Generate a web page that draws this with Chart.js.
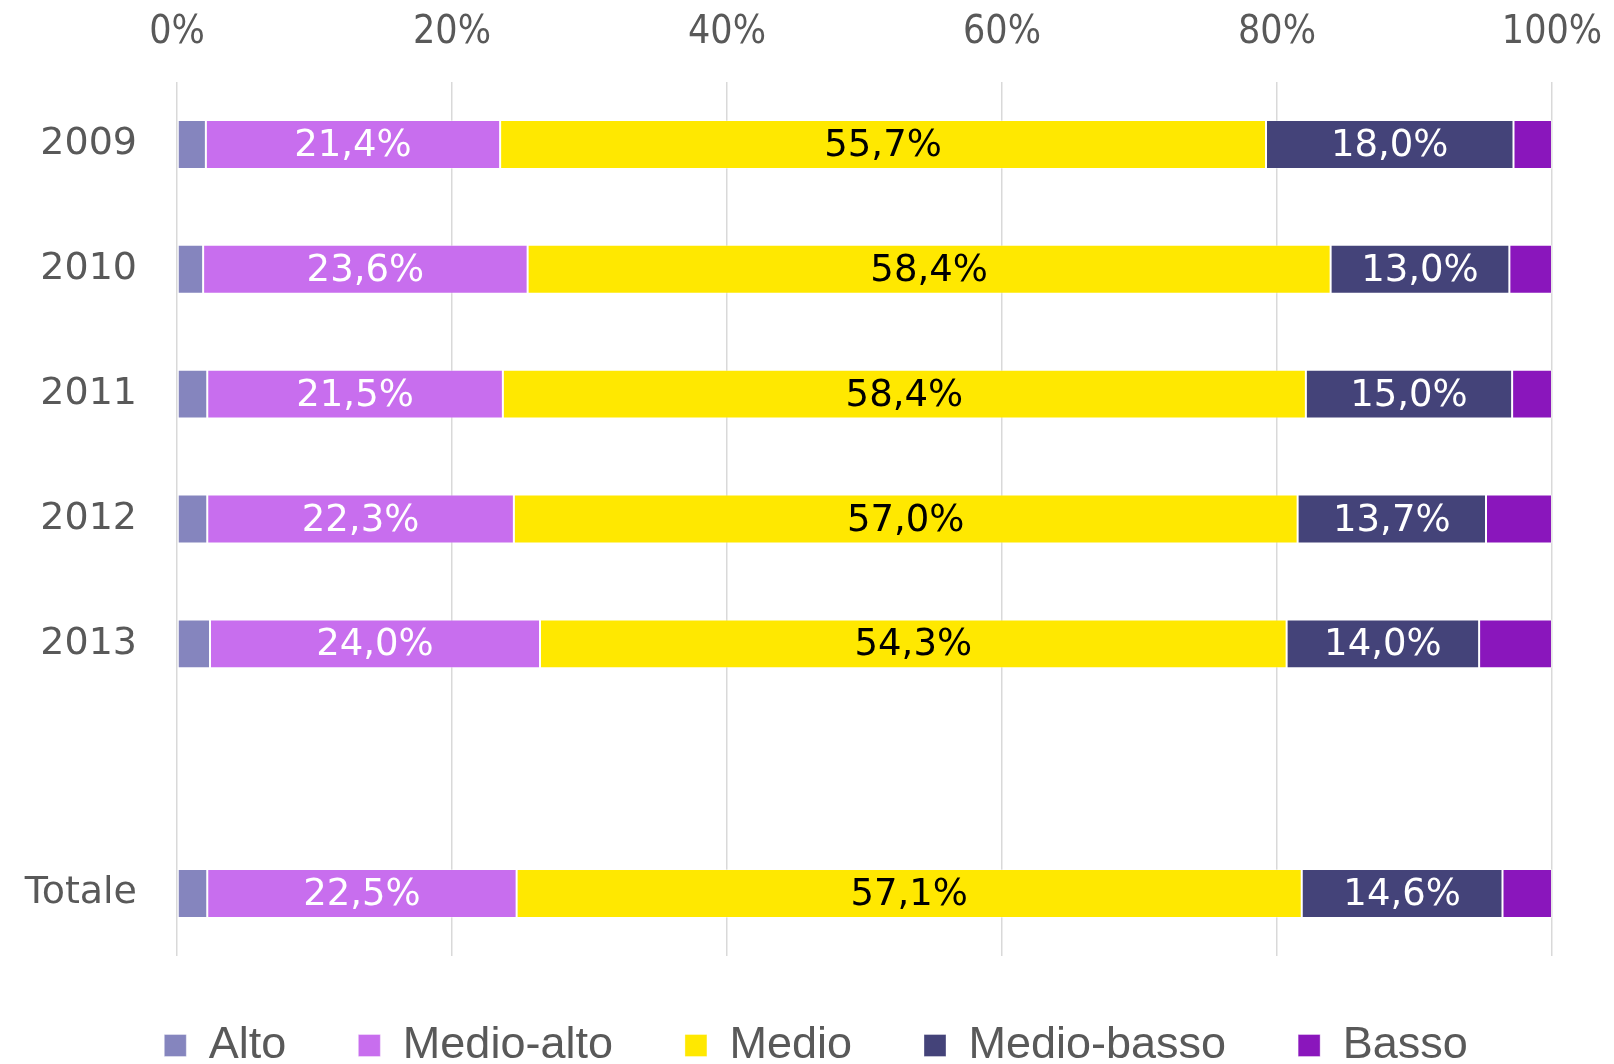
<!DOCTYPE html>
<html>
<head>
<meta charset="utf-8">
<script src="https://cdn.jsdelivr.net/npm/chart.js@4.4.1/dist/chart.umd.min.js"></script>
<style>
  html, body { margin: 0; padding: 0; background: #ffffff; overflow: hidden; }
  #wrap { width: 1614px; height: 1064px; position: relative; }
</style>
</head>
<body>
<div id="wrap"><canvas id="c"></canvas></div>
<script>
// ---- data ----
const categories = ['2009', '2010', '2011', '2012', '2013', '', 'Totale'];
const seriesNames = ['Alto', 'Medio-alto', 'Medio', 'Medio-basso', 'Basso'];
const alto       = [2.1, 1.9, 2.2, 2.2, 2.4, null, 2.2];
const medioAlto  = [21.4, 23.6, 21.5, 22.3, 24.0, null, 22.5];
const medio      = [55.7, 58.4, 58.4, 57.0, 54.3, null, 57.1];
const medioBasso = [18.0, 13.0, 15.0, 13.7, 14.0, null, 14.6];
const basso      = [2.8, 3.1, 2.9, 4.8, 5.3, null, 3.6];
const tickValues = [0, 20, 40, 60, 80, 100];

// ---- styles ----
const colors = ['#8585BE', '#C86EEE', '#FFE800', '#444379', '#8A16BC'];
const labelColors = [null, '#FFFFFF', '#000000', '#FFFFFF', null];
const textGray = '#595959';

const seriesData = [alto, medioAlto, medio, medioBasso, basso];

const datasets = seriesData.map((d, i) => ({
  label: seriesNames[i],
  data: d,
  backgroundColor: colors[i],
  borderColor: 'rgba(255,255,255,0.35)',
  borderWidth: 1,
  borderSkipped: false,
  categoryPercentage: 0.8,
  barPercentage: 0.49
}));

const barLabels = {
  id: 'barLabels',
  afterDatasetsDraw(chart) {
    const ctx = chart.ctx;
    ctx.save();
    ctx.font = '37px "DejaVu Sans", sans-serif';
    ctx.textAlign = 'center';
    ctx.textBaseline = 'middle';
    chart.data.datasets.forEach((ds, i) => {
      if (!labelColors[i]) return;
      const meta = chart.getDatasetMeta(i);
      meta.data.forEach((el, j) => {
        const v = ds.data[j];
        if (v === null || v === undefined) return;
        const p = el.getCenterPoint();
        ctx.fillStyle = labelColors[i];
        ctx.fillText(v.toFixed(1).replace('.', ',') + '%', p.x, p.y + 2);
      });
    });
    ctx.restore();
  }
};

new Chart(document.getElementById('c'), {
  type: 'bar',
  data: { labels: categories, datasets },
  options: {
    indexAxis: 'y',
    responsive: true,
    maintainAspectRatio: false,
    animation: false,
    devicePixelRatio: 1,
    layout: { padding: { left: 18, right: 0, top: 0, bottom: 0 } },
    scales: {
      x: {
        position: 'top',
        stacked: true,
        min: 0,
        max: 100,
        afterBuildTicks(scale) { scale.ticks = tickValues.map(v => ({ value: v })); },
        afterFit(scale) { scale.height = 82; scale.paddingLeft = 0; scale.paddingRight = 0; },
        grid: { color: '#D9D9D9', lineWidth: 1.5, drawTicks: false },
        border: { display: false },
        ticks: {
          padding: 26,
          color: textGray,
          font: { family: '"Liberation Sans Narrow", "DejaVu Sans Condensed", "Liberation Sans", sans-serif', size: 39 },
          callback: v => v + '%'
        }
      },
      y: {
        stacked: true,
        afterFit(scale) { scale.width = 159; },
        grid: { display: false, drawTicks: false },
        border: { display: false },
        ticks: {
          padding: 40,
          color: textGray,
          font: { family: '"DejaVu Sans", sans-serif', size: 38 }
        }
      },
      yR: {
        type: 'category',
        position: 'right',
        display: true,
        afterFit(scale) { scale.width = 62; },
        grid: { display: false, drawTicks: false },
        border: { display: false },
        ticks: { display: false }
      }
    },
    plugins: {
      tooltip: { enabled: false },
      legend: {
        position: 'bottom',
        maxHeight: 108,
        title: { display: true, text: '', padding: { top: -6.2, bottom: 0 }, font: { size: 1 } },
        labels: {
          boxWidth: 22,
          boxHeight: 22,
          padding: 72,
          color: textGray,
          font: { family: '"Liberation Sans", Arial, sans-serif', size: 45 }
        }
      }
    }
  },
  plugins: [barLabels]
});
</script>
</body>
</html>
